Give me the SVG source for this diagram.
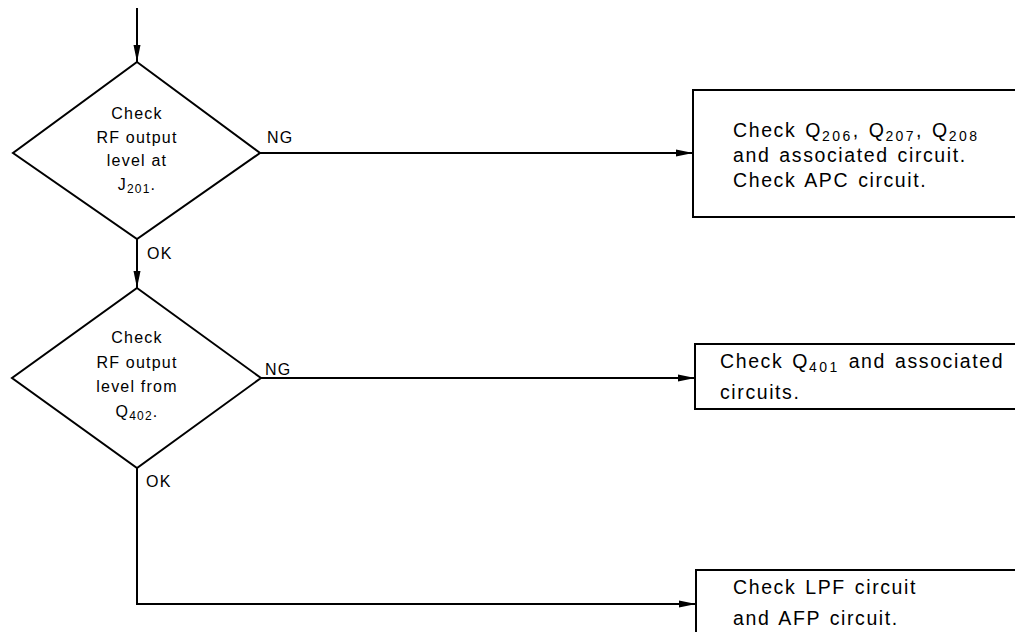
<svg xmlns="http://www.w3.org/2000/svg" width="1015" height="632" viewBox="0 0 1015 632">
<style>
.shape{fill:#fff;stroke:#000;stroke-width:2}
.wire{fill:none;stroke:#000;stroke-width:2}
.t{font-family:"Liberation Sans",Arial,sans-serif;font-size:16px;letter-spacing:1.2px;fill:#000}
.tc{text-anchor:middle}
.b{font-family:"Liberation Sans",Arial,sans-serif;font-size:19.5px;letter-spacing:1.6px;word-spacing:2px;fill:#000}
.s{font-size:12px}
.bs{font-size:14px;letter-spacing:2.4px}
</style>
<defs>
<marker id="ah" viewBox="0 0 17 8" refX="17" refY="4" markerWidth="17" markerHeight="8" markerUnits="userSpaceOnUse" orient="auto">
<path d="M0,0.5 L17,4 L0,7.5 Z" fill="#000"/>
</marker>
</defs>
<g id="connectors">
<line class="wire" x1="137" y1="8" x2="137" y2="62" marker-end="url(#ah)"/>
<line class="wire" x1="137" y1="239" x2="137" y2="288" marker-end="url(#ah)"/>
<line class="wire" x1="260" y1="153" x2="693" y2="153" marker-end="url(#ah)"/>
<line class="wire" x1="261" y1="378" x2="695" y2="378" marker-end="url(#ah)"/>
<polyline class="wire" points="137,468 137,604 696,604" marker-end="url(#ah)"/>
<text class="t" x="267" y="143">NG</text>
<text class="t" x="265" y="375">NG</text>
<text class="t" x="147" y="259">OK</text>
<text class="t" x="146" y="487">OK</text>
</g>
<g id="decision1">
<polygon class="shape" points="137,62 260,153 137,239 13,153"/>
<text class="t tc" x="137" y="119">Check</text>
<text class="t tc" x="137" y="143">RF output</text>
<text class="t tc" x="137" y="166">level at</text>
<text class="t tc" x="137" y="190">J<tspan class="s" dy="3">201</tspan><tspan dy="-3">.</tspan></text>
</g>
<g id="decision2">
<polygon class="shape" points="137,288 261,378 137,468 12,378"/>
<text class="t tc" x="137" y="343">Check</text>
<text class="t tc" x="137" y="368">RF output</text>
<text class="t tc" x="137" y="392">level from</text>
<text class="t tc" x="137" y="417">Q<tspan class="s" dy="3">402</tspan><tspan dy="-3">.</tspan></text>
</g>
<g id="box1">
<rect class="shape" x="693" y="90" width="340" height="127"/>
<text class="b" x="733" y="137">Check Q<tspan class="bs" dy="4">206</tspan><tspan dy="-4">, Q</tspan><tspan class="bs" dy="4">207</tspan><tspan dy="-4">, Q</tspan><tspan class="bs" dy="4">208</tspan></text>
<text class="b" x="733" y="162">and associated circuit.</text>
<text class="b" x="733" y="187">Check APC circuit.</text>
</g>
<g id="box2">
<rect class="shape" x="695" y="344" width="340" height="65"/>
<text class="b" x="720" y="368">Check Q<tspan class="bs" dy="4">401</tspan><tspan dy="-4"> and associated</tspan></text>
<text class="b" x="720" y="399">circuits.</text>
</g>
<g id="box3">
<rect class="shape" x="696" y="570" width="340" height="80"/>
<text class="b" x="733" y="594">Check LPF circuit</text>
<text class="b" x="733" y="625">and AFP circuit.</text>
</g>
</svg>
